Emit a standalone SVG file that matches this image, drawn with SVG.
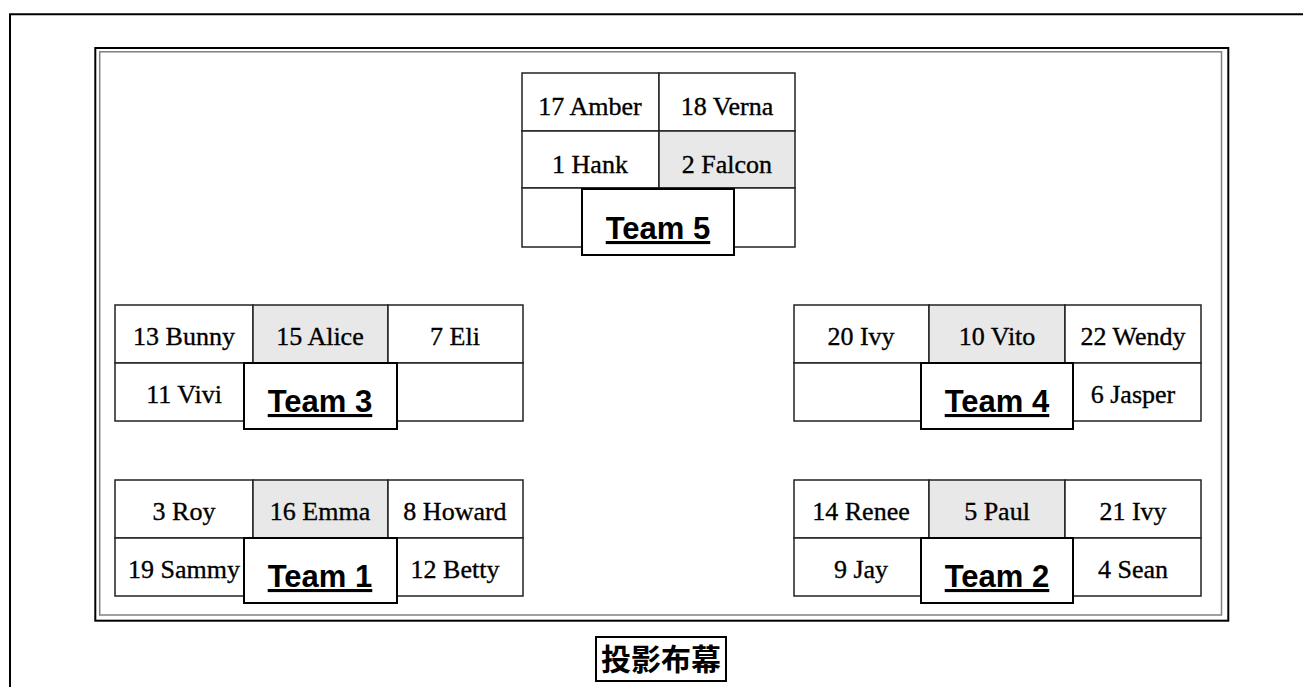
<svg xmlns="http://www.w3.org/2000/svg" width="1303" height="687" viewBox="0 0 1303 687">
<style>
.cell{fill:#fff;stroke:#222;stroke-width:1.5}
.hl{fill:#e8e8e8;stroke:#222;stroke-width:1.5}
.lbl{fill:#fff;stroke:#000;stroke-width:2}
.nm{font-family:"Liberation Serif","Times New Roman",serif;font-size:26px;fill:#000;stroke:#000;stroke-width:0.35;text-anchor:middle}
.tm{font-family:"Liberation Sans",Arial,sans-serif;font-size:31px;font-weight:bold;fill:#000;text-anchor:middle;text-decoration:underline}
.scr{font-family:"Noto Sans CJK TC","Noto Sans CJK SC",sans-serif;font-size:30px;font-weight:bold;fill:#000;text-anchor:middle}
</style>
<rect width="1303" height="687" fill="#fff"/>
<path d="M10,687 V14.3 H1303" fill="none" stroke="#000" stroke-width="2"/>
<rect x="95.3" y="48" width="1133" height="572.7" fill="none" stroke="#000" stroke-width="2"/>
<rect x="99.7" y="51.8" width="1121.8" height="563.2" fill="none" stroke="#808080" stroke-width="1.5"/>

<g id="connectors"/>

<g id="team5">
<rect class="cell" x="522" y="73" width="137" height="58"/>
<rect class="cell" x="659" y="73" width="136" height="58"/>
<rect class="cell" x="522" y="131" width="137" height="57"/>
<rect class="hl" x="659" y="131" width="136" height="57"/>
<rect class="cell" x="522" y="188" width="137" height="59"/>
<rect class="cell" x="659" y="188" width="136" height="59"/>
<text class="nm" x="590" y="115">17 Amber</text>
<text class="nm" x="727" y="115">18 Verna</text>
<text class="nm" x="590" y="173">1 Hank</text>
<text class="nm" x="727" y="173">2 Falcon</text>
<rect class="lbl" x="582" y="189" width="152" height="66"/>
<text class="tm" x="658" y="239">Team 5</text>
</g>

<g id="team3">
<rect class="cell" x="115" y="305" width="138" height="58"/>
<rect class="hl" x="253" y="305" width="135" height="58"/>
<rect class="cell" x="388" y="305" width="135" height="58"/>
<rect class="cell" x="115" y="363" width="138" height="58"/>
<rect class="cell" x="253" y="363" width="135" height="58"/>
<rect class="cell" x="388" y="363" width="135" height="58"/>
<text class="nm" x="184" y="345">13 Bunny</text>
<text class="nm" x="320" y="345">15 Alice</text>
<text class="nm" x="455" y="345">7 Eli</text>
<text class="nm" x="184" y="403">11 Vivi</text>
<rect class="lbl" x="244" y="363" width="153" height="66"/>
<text class="tm" x="320" y="412">Team 3</text>
</g>

<g id="team4">
<rect class="cell" x="794" y="305" width="135" height="58"/>
<rect class="hl" x="929" y="305" width="136" height="58"/>
<rect class="cell" x="1065" y="305" width="136" height="58"/>
<rect class="cell" x="794" y="363" width="135" height="58"/>
<rect class="cell" x="929" y="363" width="136" height="58"/>
<rect class="cell" x="1065" y="363" width="136" height="58"/>
<text class="nm" x="861" y="345">20 Ivy</text>
<text class="nm" x="997" y="345">10 Vito</text>
<text class="nm" x="1133" y="345">22 Wendy</text>
<text class="nm" x="1133" y="403">6 Jasper</text>
<rect class="lbl" x="921" y="363" width="152" height="66"/>
<text class="tm" x="997" y="412">Team 4</text>
</g>

<g id="team1">
<rect class="cell" x="115" y="480" width="138" height="58"/>
<rect class="hl" x="253" y="480" width="135" height="58"/>
<rect class="cell" x="388" y="480" width="135" height="58"/>
<rect class="cell" x="115" y="538" width="138" height="58"/>
<rect class="cell" x="253" y="538" width="135" height="58"/>
<rect class="cell" x="388" y="538" width="135" height="58"/>
<text class="nm" x="184" y="520">3 Roy</text>
<text class="nm" x="320" y="520">16 Emma</text>
<text class="nm" x="455" y="520">8 Howard</text>
<text class="nm" x="184" y="578">19 Sammy</text>
<text class="nm" x="455" y="578">12 Betty</text>
<rect class="lbl" x="244" y="538" width="153" height="65"/>
<text class="tm" x="320" y="587">Team 1</text>
</g>

<g id="team2">
<rect class="cell" x="794" y="480" width="135" height="58"/>
<rect class="hl" x="929" y="480" width="136" height="58"/>
<rect class="cell" x="1065" y="480" width="136" height="58"/>
<rect class="cell" x="794" y="538" width="135" height="58"/>
<rect class="cell" x="929" y="538" width="136" height="58"/>
<rect class="cell" x="1065" y="538" width="136" height="58"/>
<text class="nm" x="861" y="520">14 Renee</text>
<text class="nm" x="997" y="520">5 Paul</text>
<text class="nm" x="1133" y="520">21 Ivy</text>
<text class="nm" x="861" y="578">9 Jay</text>
<text class="nm" x="1133" y="578">4 Sean</text>
<rect class="lbl" x="921" y="538" width="152" height="65"/>
<text class="tm" x="997" y="587">Team 2</text>
</g>

<g id="screen">
<rect x="596" y="637" width="130" height="44" fill="#fff" stroke="#000" stroke-width="2"/>
<text class="scr" x="661" y="670">投影布幕</text>
</g>
</svg>
